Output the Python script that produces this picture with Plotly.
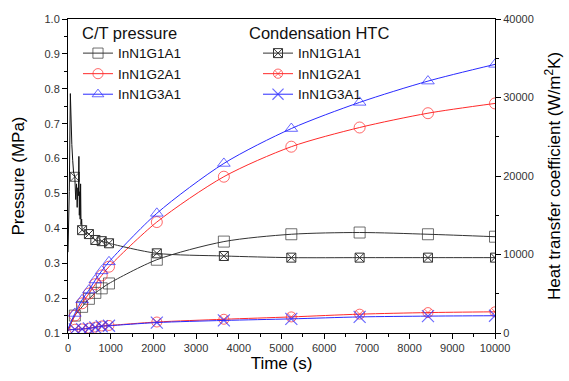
import plotly.graph_objects as go

# ---------------- data ----------------
time_marks = [160, 330, 490, 640, 790, 960, 2080, 3650, 5230, 6830, 8430, 10000]

# C/T pressure (MPa); first value is t=0 start (no marker)
p_time = [0] + time_marks
p_g1 = [0.105, 0.150, 0.175, 0.198, 0.215, 0.228, 0.242, 0.310, 0.362, 0.383, 0.388, 0.383, 0.376]
p_g2 = [0.110, 0.150, 0.185, 0.213, 0.240, 0.265, 0.290, 0.418, 0.548, 0.634, 0.689, 0.730, 0.758]
p_g3 = [0.112, 0.156, 0.195, 0.223, 0.252, 0.278, 0.304, 0.443, 0.586, 0.686, 0.761, 0.822, 0.870]

# Condensation HTC (W/m2K)
# G1 early transient (noisy start-up), t <= 330 s
h_g1_early_time = [0, 30, 55, 70, 90, 110, 130, 160, 180, 200, 215, 230, 245, 255, 265, 275, 285, 295, 305, 320, 330]
h_g1_early = [10300, 18000, 30500, 26000, 24000, 22000, 20500, 19900, 17000, 19000, 16000, 18500,
              17500, 22500, 15000, 18000, 14500, 19000, 13800, 14500, 13100]
h_g1_time = time_marks[1:]
h_g1 = [13100, 12600, 11850, 11700, 11430, 10150, 9810, 9600, 9600, 9600, 9600]

h_time = [0] + time_marks
h_g2 = [400, 480, 520, 620, 750, 900, 960, 1400, 1750, 2050, 2400, 2600, 2700]
h_g3 = [380, 460, 500, 580, 700, 860, 920, 1330, 1600, 1800, 2050, 2150, 2200]

names = ["InN1G1A1", "InN1G2A1", "InN1G3A1"]
legend_titles = ["C/T pressure", "Condensation HTC"]
colors = ["#333333", "#ff2a2a", "#2a2aff"]

fig = go.Figure()

def sizes(n, s):
    return [0] + [s] * (n - 1)

# pressure traces (legend 1)
for name, col, ys, sym in zip(names, colors, [p_g1, p_g2, p_g3],
                              ["square-open", "circle-open", "triangle-up-open"]):
    fig.add_trace(go.Scatter(
        x=p_time, y=ys, name=name, mode="lines+markers",
        line=dict(color=col, width=1, shape="spline", smoothing=0.8),
        marker=dict(symbol=sym, size=sizes(len(ys), 11), color=col, line=dict(color=col, width=1)),
        legend="legend", yaxis="y"))

# HTC G1 early noisy part
fig.add_trace(go.Scatter(
    x=h_g1_early_time, y=h_g1_early, mode="lines+markers", showlegend=False,
    line=dict(color="#111111", width=1),
    marker=dict(symbol="square-x-open",
                size=[9 if t == 160 else 0 for t in h_g1_early_time],
                color="#111111", line=dict(color="#111111", width=1)),
    yaxis="y2"))

# HTC traces (legend 2)
fig.add_trace(go.Scatter(
    x=h_g1_time, y=h_g1, name=names[0], mode="lines+markers",
    line=dict(color="#333333", width=1, shape="spline", smoothing=0.8),
    marker=dict(symbol="square-x-open", size=9, color="#333333", line=dict(color="#333333", width=1)),
    legend="legend2", yaxis="y2"))
fig.add_trace(go.Scatter(
    x=h_time, y=h_g2, name=names[1], mode="lines+markers",
    line=dict(color="#ff2a2a", width=1, shape="spline", smoothing=0.8),
    marker=dict(symbol="circle-x-open", size=sizes(len(h_g2), 10), color="#ff2a2a",
                line=dict(color="#ff2a2a", width=1)),
    legend="legend2", yaxis="y2"))
fig.add_trace(go.Scatter(
    x=h_time, y=h_g3, name=names[2], mode="lines+markers",
    line=dict(color="#2a2aff", width=1, shape="spline", smoothing=0.8),
    marker=dict(symbol="x-thin-open", size=sizes(len(h_g3), 12), color="#2a2aff",
                line=dict(color="#2a2aff", width=1.2)),
    legend="legend2", yaxis="y2"))

FONT = "Liberation Sans, Arial, sans-serif"
tickfont = dict(family=FONT, size=11, color="#333333")
titlefont = dict(family=FONT, size=17, color="#000000")
legfont = dict(family=FONT, size=13.5, color="#111111")
legtitlefont = dict(family=FONT, size=16.5, color="#111111")

for txt, xp in zip(legend_titles, [0.028, 0.419]):
    fig.add_annotation(text=txt, xref="paper", yref="paper", x=xp, y=0.955,
                       xanchor="left", yanchor="middle", showarrow=False, font=legtitlefont)

fig.update_layout(
    width=569, height=381,
    margin=dict(l=68, r=74, t=19, b=48, autoexpand=False),
    paper_bgcolor="white", plot_bgcolor="white",
    font=dict(family=FONT, color="#000000"),
    xaxis=dict(range=[0, 10000], dtick=1000, tickformat="d", ticks="outside", ticklen=5,
               tickcolor="black", showline=True, linecolor="black", linewidth=1, mirror=True,
               showgrid=False, zeroline=False, tickfont=tickfont, automargin=False,
               minor=dict(ticks="outside", ticklen=3, dtick=500, tickcolor="black", showgrid=False),
               title=dict(text="Time (s)", font=titlefont, standoff=3)),
    yaxis=dict(range=[0.1, 1.0], dtick=0.1, tickformat=".1f", ticks="outside", ticklen=5,
               tickcolor="black", showline=True, linecolor="black", linewidth=1,
               showgrid=False, zeroline=False, tickfont=tickfont, automargin=False,
               minor=dict(ticks="outside", ticklen=3, dtick=0.05, tickcolor="black", showgrid=False),
               title=dict(text="Pressure (MPa)", font=titlefont, standoff=15)),
    yaxis2=dict(range=[0, 40000], dtick=10000, tickformat="d", ticks="outside", ticklen=5,
                tickcolor="black", showline=True, linecolor="black", linewidth=1, automargin=False,
                overlaying="y", side="right", showgrid=False, zeroline=False, tickfont=tickfont,
                minor=dict(ticks="outside", ticklen=3, dtick=5000, tickcolor="black", showgrid=False),
                title=dict(text="Heat transfer coefficient (W/m<sup>2</sup>K)", font=titlefont, standoff=15)),
    legend=dict(x=0.0234, y=0.940, xanchor="left", yanchor="top", bgcolor="rgba(0,0,0,0)",
                font=legfont, tracegroupgap=0),
    legend2=dict(x=0.445, y=0.940, xanchor="left", yanchor="top", bgcolor="rgba(0,0,0,0)",
                 font=legfont, tracegroupgap=0),
    showlegend=True,
)

fig.write_html("out.html", config={"displayModeBar": False},
               post_script="document.body.style.margin='0';document.body.style.overflow='hidden';")
